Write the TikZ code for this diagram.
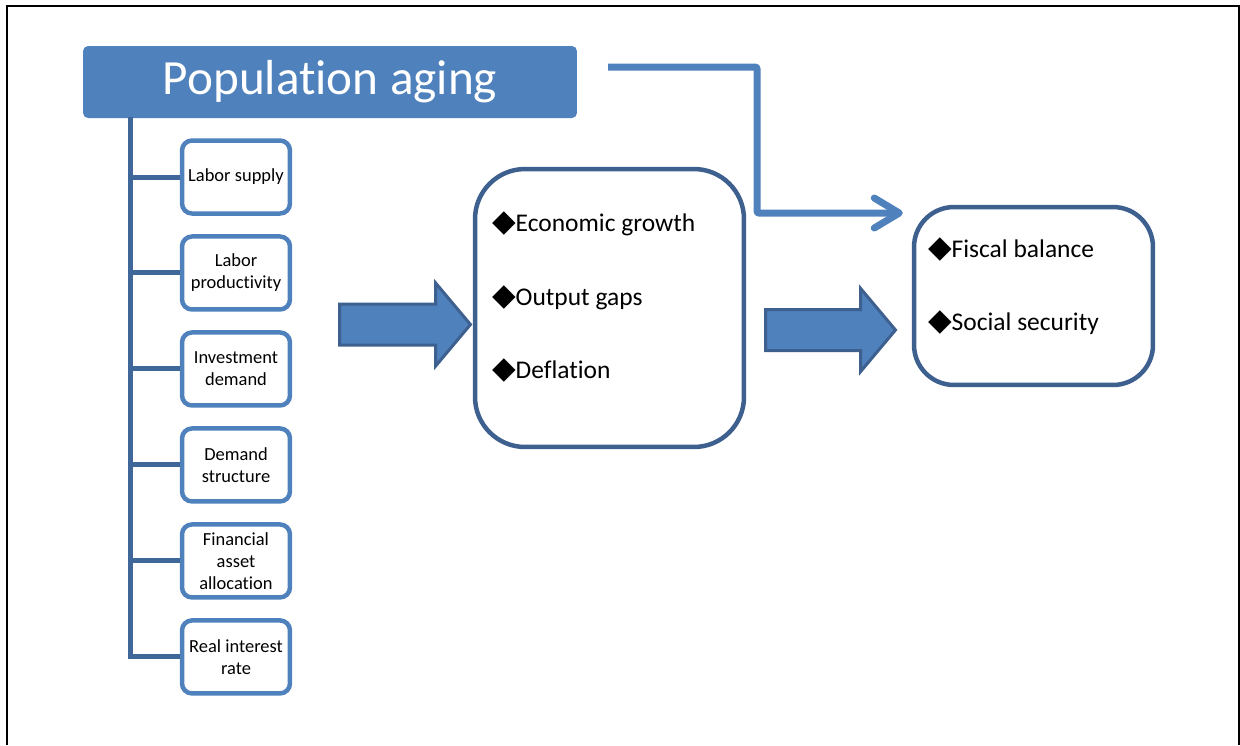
\documentclass[tikz,border=0pt]{standalone}
\usepackage{fontspec}
\setmainfont{Carlito}[Ligatures = NoCommon]
\newfontfamily\symfont{DejaVu Sans}
\usetikzlibrary{shapes.arrows, arrows.meta, positioning}

\definecolor{boxblue}{RGB}{79,129,189}
\definecolor{edgeblue}{RGB}{62,96,143}
\definecolor{trunkblue}{RGB}{64,103,154}

\newcommand{\bul}{{\symfont\fontsize{17.5}{20}\selectfont\char"25C6}}

\begin{document}
\begin{tikzpicture} [
    x = 0.02cm, y = -0.02cm,
    node distance = 1.92cm,
    on grid,
    every node/.style = {execute at begin node = {\spaceskip = 0.23em\relax}},
    factor/.style = {draw = boxblue, line width = 0.09cm, rounded corners = 0.2cm,
        minimum width = 2.16cm, minimum height = 1.46cm, inner sep = 0pt,
        align = center, font = \fontsize{10.5}{12.6}\selectfont},
    effect/.style = {draw = edgeblue, line width = 0.09cm, align = left,
        inner ysep = 0pt, text height = 10pt, font = \fontsize{14.5}{42}\selectfont},
    branch/.style = {draw = trunkblue, line width = 0.1cm},
    link/.style = {draw = boxblue, line width = 0.14cm, rounded corners = 0.04cm,
        -{Straight Barb[length = 0.5cm, width = 0.6cm, round]}},
    fatarrow/.style = {single arrow, draw = edgeblue, fill = boxblue,
        line width = 0.06cm, inner xsep = 0pt, inner ysep = 0.38cm,
        single arrow head extend = 0.42cm, single arrow tip angle = 100,
        anchor = tail}]

\useasboundingbox (0,0) rectangle (1240,745);

% Frame
\draw [line width = 0.04cm] (7,745) -- (7,6) -- (1239,6) -- (1239,745);

% Title
\node (aging) [fill = boxblue, rounded corners = 0.1cm,
    minimum width = 9.88cm, minimum height = 1.44cm,
    text = white, font = \fontsize{28}{34}\selectfont] at (330,82) {Population aging};

% Factors
\node (labor) [factor] at (236,177) {Labor supply};

\node (prod) [factor,
    below = of labor] {Labor\\productivity};

\node (invest) [factor,
    below = of prod] {Investment\\demand};

\node (demand) [factor,
    below = of invest] {Demand\\structure};

\node (finance) [factor,
    below = of demand] {Financial\\asset\\allocation};

\node (rate) [factor,
    below = of finance] {Real interest\\rate};

% Effects
\node (growth) [effect,
    rounded corners = 1cm,
    minimum width = 5.38cm, minimum height = 5.56cm,
    text width = 4.7cm, inner xsep = 0.34cm,
    text depth = 97.4pt] at (609.5,308)
    {\bul Economic growth\\\bul Output gaps\\\bul Deflation};

\node (fiscal) [effect,
    rounded corners = 0.8cm,
    minimum width = 4.78cm, minimum height = 3.56cm,
    text width = 4.22cm, inner xsep = 0.28cm,
    text depth = 54.2pt] at (1033.5,296)
    {\bul Fiscal balance\\\bul Social security};

% Block arrows
\node (pushA) [fatarrow, minimum height = 2.62cm] at (338,324.5) {};
\node (pushB) [fatarrow, minimum height = 2.6cm] at (764,330) {};

% Tree
\coordinate (root) at (130,117);
\draw [branch] (root) |- (rate.west);
\foreach \f in {labor, prod, invest, demand, finance}
    \draw [branch] (root |- \f.west) -- (\f.west);

% Direct link
\coordinate (fork) at (608,67);
\coordinate (bend) at (757,213);
\draw [link, shorten >= 0.18cm] (fork) -| (bend) -- (bend -| fiscal.west);
\end{tikzpicture}
\end{document}
